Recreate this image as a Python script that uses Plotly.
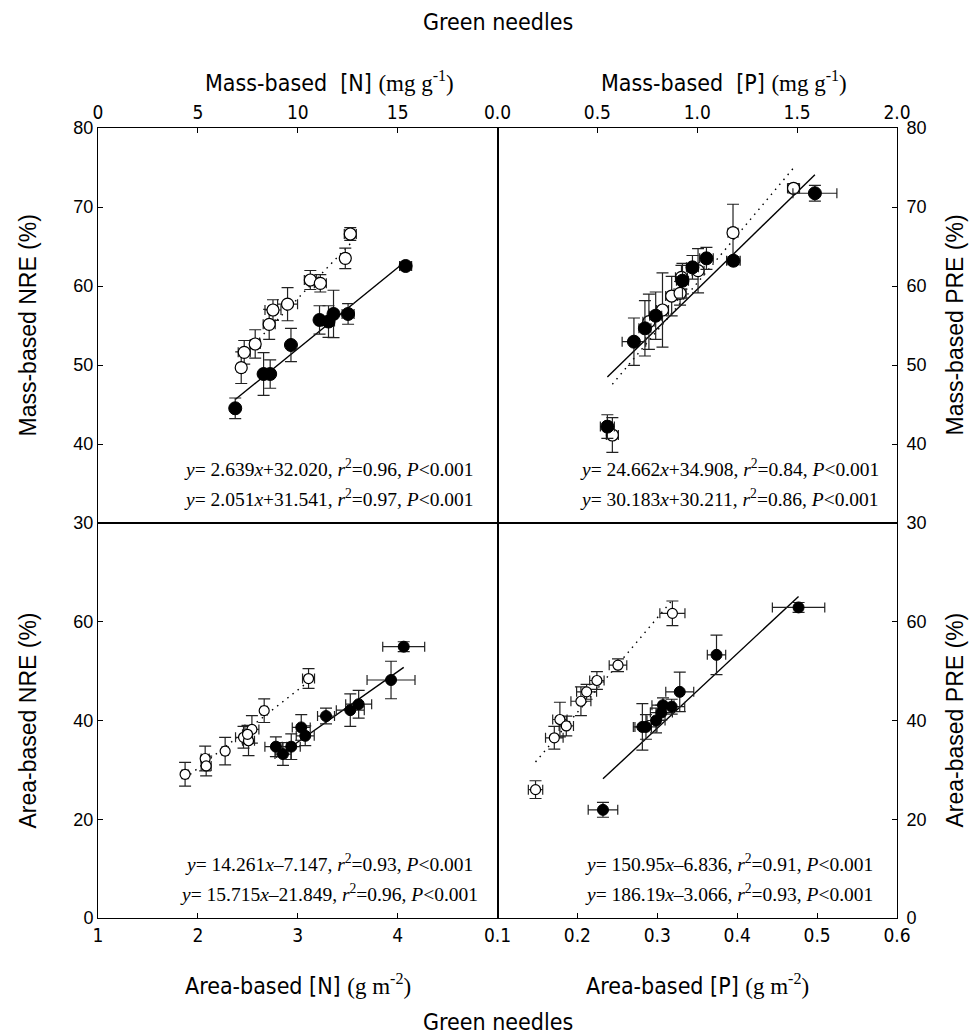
import plotly.graph_objects as go

# ---------------- data ----------------
# Top-left: mass-based [N] (mg g-1) vs mass-based NRE (%)
tl_open_x = [12.63, 12.38, 10.63, 11.13, 9.49, 8.76, 8.57, 7.87, 7.32, 7.17]
tl_open_y = [66.58, 63.5, 60.76, 60.34, 57.7, 56.96, 55.15, 52.66, 51.6, 49.66]
tl_open_xerr = [0.3, 0.2, 0.3, 0.3, 0.5, 0.4, 0.3, 0.25, 0.3, 0.2]
tl_open_yerr = [0.8, 1.3, 1.2, 1.1, 2.1, 1.3, 1.9, 1.8, 1.5, 2.0]
tl_fill_x = [6.87, 8.29, 8.62, 9.66, 11.09, 11.54, 11.79, 12.52, 15.40]
tl_fill_y = [44.52, 48.86, 48.86, 52.53, 55.7, 55.5, 56.46, 56.46, 62.53]
tl_fill_xerr = [0.15, 0.2, 0.2, 0.15, 0.2, 0.3, 0.2, 0.3, 0.3]
tl_fill_yerr = [1.3, 2.7, 1.8, 2.1, 1.8, 2.0, 3.0, 1.3, 0.5]

# Top-right: mass-based [P] (mg g-1) vs mass-based PRE (%)
tr_open_x = [1.482, 1.179, 1.004, 0.921, 0.872, 0.914, 0.826, 0.758, 0.575]
tr_open_y = [72.37, 66.75, 61.94, 61.1, 58.73, 59.07, 56.96, 55.48, 41.14]
tr_open_xerr = [0.03, 0.025, 0.03, 0.03, 0.03, 0.03, 0.03, 0.03, 0.03]
tr_open_yerr = [0.6, 3.6, 2.8, 1.5, 2.5, 1.5, 4.7, 3.5, 2.2]
tr_fill_x = [1.589, 1.181, 1.046, 0.976, 0.926, 0.792, 0.738, 0.683, 0.550]
tr_fill_y = [71.74, 63.2, 63.5, 62.36, 60.67, 56.24, 54.64, 52.95, 42.2]
tr_fill_xerr = [0.11, 0.034, 0.034, 0.03, 0.03, 0.03, 0.03, 0.059, 0.035]
tr_fill_yerr = [1.0, 0.5, 1.4, 1.5, 2.2, 3.0, 3.5, 3.0, 1.5]

# Bottom-left: area-based [N] (g m-2) vs area-based NRE (%)
bl_open_x = [3.108, 2.664, 2.541, 2.457, 2.507, 2.497, 2.273, 2.073, 2.083, 1.872]
bl_open_y = [48.5, 42.0, 38.2, 36.6, 35.9, 37.2, 33.8, 32.3, 30.8, 29.1]
bl_open_xerr = [0.06, 0.03, 0.07, 0.08, 0.06, 0.05, 0.03, 0.04, 0.05, 0.03]
bl_open_yerr = [2.0, 2.4, 2.8, 2.2, 3.0, 1.8, 2.8, 2.5, 2.0, 2.4]
bl_fill_x = [4.061, 3.934, 3.610, 3.526, 3.283, 3.035, 3.075, 2.781, 2.935, 2.852]
bl_fill_y = [54.95, 48.2, 43.3, 42.1, 40.9, 38.6, 36.9, 34.7, 34.7, 33.2]
bl_fill_xerr = [0.21, 0.24, 0.13, 0.14, 0.085, 0.09, 0.09, 0.11, 0.09, 0.08]
bl_fill_yerr = [1.0, 3.8, 2.8, 3.3, 1.6, 2.6, 2.0, 2.0, 2.6, 2.3]

# Bottom-right: area-based [P] (g m-2) vs area-based PRE (%)
br_open_x = [0.3189, 0.2508, 0.2244, 0.2115, 0.2044, 0.1781, 0.1861, 0.1711, 0.1476]
br_open_y = [61.7, 51.2, 48.1, 45.8, 43.9, 40.2, 38.9, 36.5, 26.0]
br_open_xerr = [0.0157, 0.011, 0.009, 0.0125, 0.0125, 0.009, 0.009, 0.011, 0.009]
br_open_yerr = [2.5, 1.3, 1.8, 1.5, 2.9, 3.5, 2.0, 2.3, 1.8]
br_fill_x = [0.4768, 0.3741, 0.3281, 0.3180, 0.3071, 0.3051, 0.2984, 0.2858, 0.2813, 0.2320]
br_fill_y = [62.9, 53.3, 45.8, 42.8, 43.1, 41.6, 40.0, 38.7, 38.7, 21.9]
br_fill_xerr = [0.0328, 0.0115, 0.0175, 0.0163, 0.0138, 0.0138, 0.0113, 0.0138, 0.0113, 0.0185]
br_fill_yerr = [1.0, 4.0, 4.0, 1.5, 1.5, 1.5, 2.5, 2.5, 4.7, 1.5]

# regression lines (slope, intercept) for open (dotted) and filled (solid)
tl_open_fit = (2.639, 32.020)
tl_fill_fit = (2.051, 31.541)
tr_open_fit = (30.183, 30.211)
tr_fill_fit = (24.662, 34.908)
bl_open_fit = (15.87, -1.43)
bl_fill_fit = (14.261, -7.147)
br_open_fit = (191.6, 3.32)
br_fill_fit = (150.95, -6.836)

# equation texts
tl_eq = ["<i>y</i>= 2.639<i>x</i>+32.020, <i>r</i><sup>2</sup>=0.96, <i>P</i>&lt;0.001",
         "<i>y</i>= 2.051<i>x</i>+31.541, <i>r</i><sup>2</sup>=0.97, <i>P</i>&lt;0.001"]
tr_eq = ["<i>y</i>= 24.662<i>x</i>+34.908, <i>r</i><sup>2</sup>=0.84, <i>P</i>&lt;0.001",
         "<i>y</i>= 30.183<i>x</i>+30.211, <i>r</i><sup>2</sup>=0.86, <i>P</i>&lt;0.001"]
bl_eq = ["<i>y</i>= 14.261<i>x</i>\u20137.147, <i>r</i><sup>2</sup>=0.93, <i>P</i>&lt;0.001",
         "<i>y</i>= 15.715<i>x</i>\u201321.849, <i>r</i><sup>2</sup>=0.96, <i>P</i>&lt;0.001"]
br_eq = ["<i>y</i>= 150.95<i>x</i>\u20136.836, <i>r</i><sup>2</sup>=0.91, <i>P</i>&lt;0.001",
         "<i>y</i>= 186.19<i>x</i>\u20133.066, <i>r</i><sup>2</sup>=0.93, <i>P</i>&lt;0.001"]

# ---------------- figure ----------------
W, H = 972, 1035
L, R, T, B = 98, 897, 128, 918

NARROW = "Liberation Sans Narrow, Arial Narrow, DejaVu Sans Condensed, Liberation Sans, sans-serif"
SANS = "Liberation Sans, Arial, sans-serif"
SERIF = "Liberation Serif, Times New Roman, serif"

fig = go.Figure()


def add_panel(xa, ya, ox, oy, oxe, oye, fx, fy, fxe, fye, ofit, ffit, msize):
    # lines
    for xs, fit, dash in ((ox, ofit, "1.5px,5px"), (fx, ffit, "solid")):
        x0, x1 = min(xs), max(xs)
        fig.add_trace(go.Scatter(
            x=[x0, x1], y=[fit[0] * x0 + fit[1], fit[0] * x1 + fit[1]],
            mode="lines", line=dict(color="black", width=1.4, dash=dash),
            xaxis=xa, yaxis=ya, showlegend=False, hoverinfo="skip"))
    # open symbols
    fig.add_trace(go.Scatter(
        x=ox, y=oy, mode="markers", xaxis=xa, yaxis=ya, showlegend=False,
        marker=dict(size=msize - 1, color="white", line=dict(color="black", width=1.2)),
        error_x=dict(type="data", array=oxe, color="#222", thickness=1.2, width=5),
        error_y=dict(type="data", array=oye, color="#222", thickness=1.2, width=6)))
    # filled symbols
    fig.add_trace(go.Scatter(
        x=fx, y=fy, mode="markers", xaxis=xa, yaxis=ya, showlegend=False,
        marker=dict(size=msize, color="black", line=dict(color="black", width=1)),
        error_x=dict(type="data", array=fxe, color="#222", thickness=1.2, width=5),
        error_y=dict(type="data", array=fye, color="#222", thickness=1.2, width=6)))


add_panel("x", "y", tl_open_x, tl_open_y, tl_open_xerr, tl_open_yerr,
          tl_fill_x, tl_fill_y, tl_fill_xerr, tl_fill_yerr, tl_open_fit, tl_fill_fit, 13)
add_panel("x2", "y2", tr_open_x, tr_open_y, tr_open_xerr, tr_open_yerr,
          tr_fill_x, tr_fill_y, tr_fill_xerr, tr_fill_yerr, tr_open_fit, tr_fill_fit, 13)
add_panel("x3", "y3", bl_open_x, bl_open_y, bl_open_xerr, bl_open_yerr,
          bl_fill_x, bl_fill_y, bl_fill_xerr, bl_fill_yerr, bl_open_fit, bl_fill_fit, 11)
add_panel("x4", "y4", br_open_x, br_open_y, br_open_xerr, br_open_yerr,
          br_fill_x, br_fill_y, br_fill_xerr, br_fill_yerr, br_open_fit, br_fill_fit, 11)

axis_common = dict(showline=True, linecolor="black", linewidth=1, mirror=True,
                   showgrid=False, zeroline=False, tickcolor="black", ticklen=5,
                   ticks="inside")
xfont = dict(family=NARROW, size=19, color="black")
yfont = dict(family=SANS, size=18, color="black")

fig.update_layout(
    width=W, height=H, plot_bgcolor="white", paper_bgcolor="white",
    margin=dict(l=L, r=W - R, t=T, b=H - B),
    xaxis=dict(axis_common, domain=[0, 0.5], anchor="y", side="top", range=[0, 20],
               tickvals=[0, 5, 10, 15], tickfont=xfont),
    yaxis=dict(axis_common, domain=[0.5, 1], anchor="x", range=[30, 80],
               tickvals=[30, 40, 50, 60, 70, 80], tickfont=yfont),
    xaxis2=dict(axis_common, domain=[0.5, 1], anchor="y2", side="top", range=[0, 2],
                tickvals=[0, 0.5, 1, 1.5, 2], ticktext=["0.0", "0.5", "1.0", "1.5", "2.0"],
                tickfont=xfont),
    yaxis2=dict(axis_common, domain=[0.5, 1], anchor="x2", side="right", range=[30, 80],
                tickvals=[30, 40, 50, 60, 70, 80], tickfont=yfont, ticklabelstandoff=5),
    xaxis3=dict(axis_common, domain=[0, 0.5], anchor="y3", side="bottom", range=[1, 5],
                tickvals=[1, 2, 3, 4], tickfont=xfont),
    yaxis3=dict(axis_common, domain=[0, 0.5], anchor="x3", range=[0, 80],
                tickvals=[0, 20, 40, 60], tickfont=yfont),
    xaxis4=dict(axis_common, domain=[0.5, 1], anchor="y4", side="bottom", range=[0.1, 0.6],
                tickvals=[0.1, 0.2, 0.3, 0.4, 0.5, 0.6],
                ticktext=["0.1", "0.2", "0.3", "0.4", "0.5", "0.6"], tickfont=xfont),
    yaxis4=dict(axis_common, domain=[0, 0.5], anchor="x4", side="right", range=[0, 80],
                tickvals=[0, 20, 40, 60], tickfont=yfont, ticklabelstandoff=5),
)


def px(xpix):
    return (xpix - L) / (R - L)


def py(ypix):
    return (B - ypix) / (B - T)


def ann(text, x, y, size, family, angle=0):
    fig.add_annotation(text=text, x=px(x), y=py(y), xref="paper", yref="paper",
                       showarrow=False, xanchor="center", yanchor="middle",
                       textangle=angle, font=dict(size=size, family=family, color="black"))


# top / bottom titles
ann("Green needles", (L + R) / 2, 22, 23, NARROW)
ann("Green needles", (L + R) / 2, 1022, 23, NARROW)
unit_mg = "<span style='font-family:Liberation Serif, Times New Roman, serif'>(mg g<sup>-1</sup>)</span>"
unit_gm = "<span style='font-family:Liberation Serif, Times New Roman, serif'>(g m<sup>-2</sup>)</span>"
ann("Mass-based&nbsp;&nbsp;[N] " + unit_mg, 329, 82, 23, NARROW)
ann("Mass-based&nbsp;&nbsp;[P] " + unit_mg, 724, 82, 23, NARROW)
ann("Area-based [N] " + unit_gm, 298, 984, 23, NARROW)
ann("Area-based [P] " + unit_gm, 697, 984, 23, NARROW)

# y titles
ann("Mass-based NRE (%)", 27, 325.5, 23, SANS, -90)
ann("Area-based NRE (%)", 27, 720.5, 23, SANS, -90)
ann("Mass-based PRE (%)", 954, 325.5, 23, SANS, -90)
ann("Area-based PRE (%)", 954, 720.5, 23, SANS, -90)

# equations
for eqs, cx, y0 in ((tl_eq, 329, 468), (tr_eq, 729, 468), (bl_eq, 329, 863), (br_eq, 729, 863)):
    ann(eqs[0], cx, y0, 19.5, SERIF)
    ann(eqs[1], cx, y0 + 30, 19.5, SERIF)

fig.write_html("out.html")
